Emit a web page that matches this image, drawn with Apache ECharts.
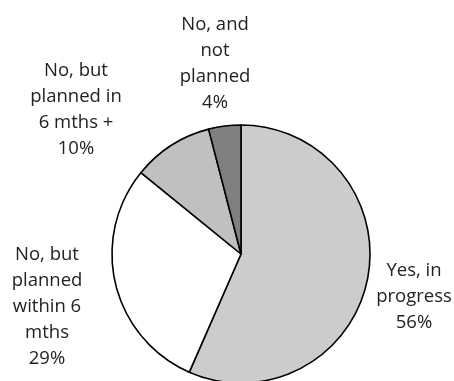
<!DOCTYPE html>
<html>
<head>
<meta charset="utf-8">
<script src="https://cdn.jsdelivr.net/npm/echarts@6/dist/echarts.min.js"></script>
<style>
  html, body { margin: 0; padding: 0; background: #ffffff; }
  #chart { width: 454px; height: 381px; }
</style>
</head>
<body>
<div id="chart"></div>
<script>
// Survey answers, clockwise from 12 o'clock
const categories = [
  'Yes, in\nprogress',
  'No, but\nplanned\nwithin 6\nmths',
  'No, but\nplanned in\n6 mths +',
  'No, and\nnot\nplanned'
];
const shares = [56, 29, 10, 4];
const sliceColors = ['#cccccc', '#ffffff', '#c0c0c0', '#808080'];

// Where each label block is centred
const labelCentres = [
  [414, 297],
  [47, 307],
  [76, 110],
  [215, 64]
];

const chart = echarts.init(document.getElementById('chart'), null, { renderer: 'canvas' });

chart.setOption({
  backgroundColor: '#ffffff',
  animation: false,
  series: [{
    type: 'pie',
    center: [241, 254],
    radius: 129,
    startAngle: 90,
    clockwise: true,
    avoidLabelOverlap: false,
    data: categories.map((name, i) => ({
      name: name,
      value: shares[i],
      itemStyle: { color: sliceColors[i] }
    })),
    itemStyle: { borderColor: '#000000', borderWidth: 1.6 },
    emphasis: { disabled: true },
    label: {
      show: true,
      position: 'outside',
      formatter: p => p.name + '\n' + p.value + '%',
      fontFamily: 'Open Sans',
      fontSize: 18.5,
      lineHeight: 26,
      color: '#222222'
    },
    labelLine: { show: false },
    labelLayout: p => ({
      x: labelCentres[p.dataIndex][0],
      y: labelCentres[p.dataIndex][1],
      align: 'center',
      verticalAlign: 'middle'
    })
  }]
});
</script>
</body>
</html>
